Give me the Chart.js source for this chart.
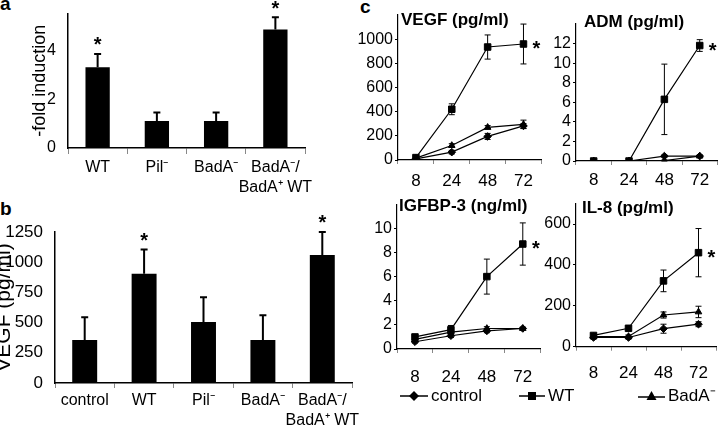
<!DOCTYPE html>
<html><head><meta charset="utf-8">
<script src="https://cdn.jsdelivr.net/npm/chart.js@4/dist/chart.umd.min.js"></script>
<style>
html,body{margin:0;padding:0;background:#fff;overflow:hidden;width:720px;height:431px;}
#wrap{position:relative;width:720px;height:431px;font-family:'Liberation Sans',Arial,sans-serif;color:#000;}
canvas{position:absolute;}
.lbl{position:absolute;font-weight:bold;font-size:19px;line-height:19px;}
.ttl{position:absolute;font-weight:bold;font-size:17px;line-height:17px;white-space:nowrap;}
.leg{position:absolute;font-size:17px;line-height:18px;height:18px;white-space:nowrap;display:flex;align-items:center;}
.leg svg{margin-right:3px;}
</style></head>
<body><div id="wrap">
<div class="lbl" style="left:0;top:-6px">a</div>
<div class="lbl" style="left:0;top:199px">b</div>
<div class="lbl" style="left:360px;top:-3px">c</div>
<canvas id="ca" width="320" height="200" style="left:0;top:0"></canvas>
<canvas id="cb" width="365" height="231" style="left:0;top:200px"></canvas>
<canvas id="cv" width="192" height="200" style="left:355px;top:0"></canvas>
<canvas id="cd" width="183" height="200" style="left:540px;top:0"></canvas>
<canvas id="ci" width="192" height="200" style="left:355px;top:190px"></canvas>
<canvas id="cl" width="183" height="200" style="left:540px;top:190px"></canvas>
<div class="ttl" style="left:401px;top:11px">VEGF (pg/ml)</div>
<div class="ttl" style="left:584px;top:13px">ADM (pg/ml)</div>
<div class="ttl" style="left:399px;top:197px">IGFBP-3 (ng/ml)</div>
<div class="ttl" style="left:582px;top:199px">IL-8 (pg/ml)</div>
<div class="leg" style="left:400px;top:387px"><svg width="28" height="12"><line x1="0" y1="6" x2="28" y2="6" stroke="#000" stroke-width="1.5"/><polygon points="14,1 19,6 14,11 9,6" fill="#000"/></svg><span>control</span></div>
<div class="leg" style="left:519px;top:387px"><svg width="26" height="12"><line x1="0" y1="6" x2="26" y2="6" stroke="#000" stroke-width="1.5"/><rect x="9" y="2" width="8" height="8" fill="#000"/></svg><span>WT</span></div>
<div class="leg" style="left:638px;top:387px"><svg width="27" height="12"><line x1="0" y1="7" x2="27" y2="7" stroke="#000" stroke-width="1.5"/><polygon points="13.5,1 18.5,10 8.5,10" fill="#000"/></svg><span>BadA⁻</span></div>
</div>
<script>
// ---------- data ----------
const aCategories = ['WT', 'Pil⁻', 'BadA⁻', ['BadA⁻/', 'BadA⁺ WT']];
const aValues = [3.3, 1.1, 1.1, 4.85];
const aErrors = [0.55, 0.35, 0.35, 0.5];
const aSignificant = [true, false, false, true];
const aTicks = [0, 2, 4];

const bCategories = ['control', 'WT', 'Pil⁻', 'BadA⁻', ['BadA⁻/', 'BadA⁺ WT']];
const bValues = [355, 905, 505, 355, 1060];
const bErrors = [190, 200, 205, 205, 190];
const bSignificant = [false, true, false, false, true];
const bTicks = [0, 250, 500, 750, 1000, 1250];

const timepoints = ['8', '24', '48', '72'];
const wtSignificant = [false, false, false, true];

const vegfControl = [10, 65, 195, 282];
const vegfControlErr = [5, 15, 25, 20];
const vegfWT = [20, 420, 935, 960];
const vegfWTErr = [10, 45, 100, 165];
const vegfBadA = [15, 120, 270, 295];
const vegfBadAErr = [5, 15, 15, 35];
const vegfTicks = [0, 200, 400, 600, 800, 1000];

const admControl = [0, 0, 0.5, 0.5];
const admControlErr = [0, 0, 0.1, 0.1];
const admWT = [0, 0, 6.3, 11.8];
const admWTErr = [0, 0, 3.6, 0.6];
const admBadA = [0, 0, 0.05, 0.5];
const admBadAErr = [0, 0, 0.05, 0.1];
const admTicks = [0, 2, 4, 6, 8, 10, 12];

const igfControl = [0.6, 1.1, 1.5, 1.7];
const igfControlErr = [0.1, 0.15, 0.15, 0.1];
const igfWT = [1.0, 1.6, 6.0, 8.7];
const igfWTErr = [0.15, 0.35, 1.45, 1.75];
const igfBadA = [0.8, 1.4, 1.7, 1.7];
const igfBadAErr = [0.1, 0.15, 0.15, 0.1];
const igfTicks = [0, 2, 4, 6, 8, 10];

const il8Control = [45, 45, 88, 110];
const il8ControlErr = [8, 8, 22, 12];
const il8WT = [55, 90, 322, 460];
const il8WTErr = [10, 10, 53, 118];
const il8BadA = [50, 50, 155, 170];
const il8BadAErr = [8, 8, 15, 28];
const il8Ticks = [0, 200, 400, 600];

// ---------- plugins ----------
const FONT = "'Liberation Sans', Arial, sans-serif";
Chart.defaults.font.family = FONT;
Chart.defaults.color = '#000';

const errorBarPlugin = {
  id: 'errorBars',
  afterDatasetsDraw(chart) {
    const ctx = chart.ctx, y = chart.scales.y;
    chart.data.datasets.forEach((ds, i) => {
      if (!ds.errorBars) return;
      const meta = chart.getDatasetMeta(i);
      ctx.save();
      ctx.strokeStyle = '#000';
      ctx.lineWidth = ds.errorWidth || 1;
      const cap = ds.errorCap || 3;
      meta.data.forEach((el, j) => {
        const e = ds.errorBars[j];
        if (!e) return;
        const v = ds.data[j];
        const x = el.x;
        const yTop = y.getPixelForValue(v + e);
        const yBot = ds.errorBoth ? y.getPixelForValue(v - e) : y.getPixelForValue(v);
        ctx.beginPath();
        ctx.moveTo(x, yBot); ctx.lineTo(x, yTop);
        ctx.moveTo(x - cap, yTop); ctx.lineTo(x + cap, yTop);
        if (ds.errorBoth) { ctx.moveTo(x - cap, yBot); ctx.lineTo(x + cap, yBot); }
        ctx.stroke();
      });
      ctx.restore();
    });
  }
};

const starPlugin = {
  id: 'stars',
  afterDatasetsDraw(chart) {
    const ctx = chart.ctx, y = chart.scales.y;
    chart.data.datasets.forEach((ds, i) => {
      if (!ds.stars) return;
      const meta = chart.getDatasetMeta(i);
      ctx.save();
      const fs = 20;
      ctx.font = 'bold ' + fs + 'px ' + FONT;
      ctx.fillStyle = '#000';
      ctx.textAlign = 'center';
      ctx.textBaseline = 'alphabetic';
      meta.data.forEach((el, j) => {
        if (!ds.stars[j]) return;
        let x, yc;
        if (ds.starMode === 'above') {
          x = el.x;
          yc = y.getPixelForValue(ds.data[j] + ds.errorBars[j]) - 14;
        } else {
          x = el.x + 13;
          yc = el.y;
        }
        ctx.fillText('*', x, yc + 0.57 * fs);
      });
      ctx.restore();
    });
  }
};

// ---------- builders ----------
function makeBar(id, cats, vals, errs, stars, ticks, yMax, yTitle, g) {
  return new Chart(document.getElementById(id), {
    type: 'bar',
    data: {labels: cats, datasets: [{
      data: vals, backgroundColor: '#000', borderWidth: 0,
      barPercentage: g.barPct, categoryPercentage: 1,
      errorBars: errs, errorBoth: false, errorWidth: 2, errorCap: 3.5,
      stars: stars, starMode: 'above'
    }]},
    options: {
      responsive: false, animation: false, devicePixelRatio: 1,
      layout: {padding: {top: g.padTop, right: g.padRight, left: 0, bottom: 0}},
      plugins: {legend: {display: false}, tooltip: {enabled: false}},
      scales: {
        x: {
          type: 'category', offset: true,
          grid: {display: true, drawOnChartArea: false, drawTicks: true, tickLength: g.xTickLen, color: '#888', offset: true},
          border: {display: true, color: '#000', width: 1.5},
          ticks: {font: {size: g.xTickSize, lineHeight: 1.25}, padding: g.xTickPad, color: '#000', maxRotation: 0, minRotation: 0, autoSkip: false},
          afterFit: s => { s.height = g.xHeight; }
        },
        y: {
          min: 0, max: yMax,
          grid: {display: false},
          border: {display: true, color: '#000', width: 1.5},
          ticks: {font: {size: g.yTickSize}, padding: 4, color: '#000', callback: v => String(v)},
          afterBuildTicks: s => { s.ticks = ticks.map(v => ({value: v})); },
          title: {display: true, text: yTitle, color: '#000', font: {size: g.titleSize, lineHeight: 1}, padding: {top: g.titlePad, bottom: 0}},
          afterFit: s => { s.width = g.yWidth; }
        }
      }
    },
    plugins: [errorBarPlugin, starPlugin]
  });
}

function lineDs(data, errs, style, radius, stars) {
  return {
    data: data, borderColor: '#000', borderWidth: 1.2, backgroundColor: '#000',
    pointStyle: style, pointRadius: radius, pointBackgroundColor: '#000', pointBorderColor: '#000', pointBorderWidth: 1,
    fill: false, tension: 0,
    errorBars: errs, errorBoth: true, errorWidth: 1, errorCap: 3,
    stars: stars, starMode: 'right'
  };
}

function makeLine(id, ctrl, ctrlErr, wt, wtErr, bad, badErr, ticks, yMax, g) {
  return new Chart(document.getElementById(id), {
    type: 'line',
    data: {labels: timepoints, datasets: [
      lineDs(ctrl, ctrlErr, 'rectRot', 3.8, null),
      lineDs(bad, badErr, 'triangle', 3.8, null),
      lineDs(wt, wtErr, 'rect', 4.6, wtSignificant)
    ]},
    options: {
      responsive: false, animation: false, devicePixelRatio: 1,
      layout: {padding: {top: g.padTop, right: g.padRight, left: 0, bottom: 0}},
      plugins: {legend: {display: false}, tooltip: {enabled: false}},
      scales: {
        x: {
          type: 'category', offset: true,
          grid: {display: true, drawOnChartArea: false, drawTicks: true, tickLength: 4, color: '#888', offset: true},
          border: {display: true, color: '#000', width: 1.2},
          ticks: {font: {size: 17}, padding: g.xTickPad, color: '#000', maxRotation: 0, minRotation: 0, autoSkip: false},
          afterFit: s => { s.height = g.xHeight; }
        },
        y: {
          min: 0, max: yMax,
          grid: {display: true, drawOnChartArea: false, drawTicks: true, tickLength: 3, color: '#000'},
          border: {display: true, color: '#000', width: 1.2},
          ticks: {font: {size: 16}, padding: 2, color: '#000', callback: v => String(v)},
          afterBuildTicks: s => { s.ticks = ticks.map(v => ({value: v})); },
          afterFit: s => { s.width = g.yWidth; }
        }
      }
    },
    plugins: [errorBarPlugin, starPlugin]
  });
}

makeBar('ca', aCategories, aValues, aErrors, aSignificant, aTicks, 5.5, '-fold induction',
  {barPct: 0.41, padTop: 13, padRight: 15, xTickLen: 6, xTickPad: 4, xTickSize: 16, yTickSize: 16, xHeight: 52, yWidth: 68, titleSize: 18, titlePad: 31});
makeBar('cb', bCategories, bValues, bErrors, bSignificant, bTicks, 1250, 'VEGF (pg/ml)',
  {barPct: 0.42, padTop: 32, padRight: 13, xTickLen: 5, xTickPad: 3, xTickSize: 16, yTickSize: 17, xHeight: 48, yWidth: 55, titleSize: 21, titlePad: -6});

makeLine('cv', vegfControl, vegfControlErr, vegfWT, vegfWTErr, vegfBadA, vegfBadAErr, vegfTicks, 1200,
  {padTop: 15, padRight: 5, xHeight: 40, yWidth: 43, xTickPad: 7});
makeLine('cd', admControl, admControlErr, admWT, admWTErr, admBadA, admBadAErr, admTicks, 14,
  {padTop: 24, padRight: 3, xHeight: 39, yWidth: 36, xTickPad: 5});
makeLine('ci', igfControl, igfControlErr, igfWT, igfWTErr, igfBadA, igfBadAErr, igfTicks, 12,
  {padTop: 14.2, padRight: 6, xHeight: 41, yWidth: 42, xTickPad: 14});
makeLine('cl', il8Control, il8ControlErr, il8WT, il8WTErr, il8BadA, il8BadAErr, il8Ticks, 700,
  {padTop: 13.6, padRight: 7, xHeight: 43.3, yWidth: 36, xTickPad: 12});
</script>
</body></html>
